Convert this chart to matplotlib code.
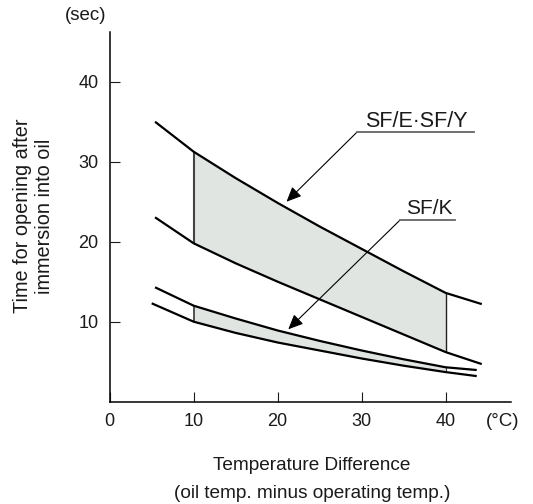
import matplotlib
matplotlib.use('Agg')
import matplotlib.pyplot as plt

plt.rcParams['font.family'] = ['Liberation Sans', 'DejaVu Sans']

# values
temp_sfe = [5.4, 10, 15, 20, 25, 30, 35, 40, 44.3]
sfe_upper = [35.0, 31.25, 27.95, 24.85, 21.9, 19.1, 16.3, 13.6, 12.2]
sfe_lower = [23.05, 19.8, 17.3, 15.0, 12.8, 10.6, 8.4, 6.2, 4.7]

temp_sfk_up = [5.4, 10, 15, 20, 25, 30, 35, 40, 43.7]
sfk_upper = [14.3, 12.0, 10.4, 8.9, 7.6, 6.4, 5.3, 4.3, 3.96]
temp_sfk_lo = [5.0, 10, 15, 20, 25, 30, 35, 40, 43.7]
sfk_lower = [12.3, 10.0, 8.6, 7.4, 6.4, 5.4, 4.5, 3.7, 3.2]

x_ticks = [0, 10, 20, 30, 40]
y_ticks = [10, 20, 30, 40]
band_range = (10, 40)

txt = '#1a1a1a'
fill_col = '#e1e5e1'

fig = plt.figure(figsize=(5.33, 5.04), dpi=100)
ax = fig.add_axes([0.2058, 0.203, 0.7523, 0.734])

# shaded bands between 10 and 40 degC
i0, i1 = temp_sfe.index(band_range[0]), temp_sfe.index(band_range[1]) + 1
ax.fill_between(temp_sfe[i0:i1], sfe_lower[i0:i1], sfe_upper[i0:i1], color=fill_col, lw=0, zorder=1)
ax.fill_between(temp_sfk_up[i0:i1], sfk_lower[i0:i1], sfk_upper[i0:i1], color=fill_col, lw=0, zorder=1)

ax.vlines(band_range[0], sfe_lower[i0], sfe_upper[i0], color='#444444', lw=1.5, zorder=2)
ax.vlines(band_range[1], sfe_lower[i1 - 1], sfe_upper[i1 - 1], color='#222222', lw=1.0, zorder=2)
ax.vlines(band_range[0], sfk_lower[i0], sfk_upper[i0], color='#444444', lw=1.3, zorder=2)
ax.vlines(band_range[1], sfk_lower[i1 - 1], sfk_upper[i1 - 1], color='#444444', lw=0.8, zorder=2)

for xs, ys in [(temp_sfe, sfe_upper), (temp_sfe, sfe_lower),
               (temp_sfk_up, sfk_upper), (temp_sfk_lo, sfk_lower)]:
    ax.plot(xs, ys, color='black', lw=1.6, solid_capstyle='butt', solid_joinstyle='round', zorder=3)

# callouts
arrow = dict(arrowstyle='-|>,head_length=0.45,head_width=0.2', color='black',
             lw=0.8, shrinkA=0, shrinkB=0, mutation_scale=20)
ax.annotate('', xy=(21.05, 25.0), xytext=(29.44, 33.7), arrowprops=arrow, zorder=4)
ax.plot([29.44, 43.37], [33.7, 33.7], color='#666666', lw=1.3, zorder=4)
ax.text(36.5, 34.4, 'SF/E·SF/Y', ha='center', va='baseline', fontsize=15.5, color=txt)

ax.annotate('', xy=(21.26, 9.05), xytext=(34.56, 22.7), arrowprops=arrow, zorder=4)
ax.plot([34.56, 41.1], [22.7, 22.7], color='#666666', lw=1.3, zorder=4)
ax.text(38.0, 23.45, 'SF/K', ha='center', va='baseline', fontsize=15, color=txt)

ax.set_xlim(0, 47.74)
ax.set_ylim(0, 46.25)
ax.set_xticks(x_ticks)
ax.set_yticks(y_ticks)
ax.tick_params(direction='in', length=7.2, width=0.8, labelsize=13, colors=txt, pad=8)
for s in ['top', 'right']:
    ax.spines[s].set_visible(False)
for s in ['left', 'bottom']:
    ax.spines[s].set_linewidth(1.1)

fig.text(86 / 533, 1 - 15 / 504, '(sec)', ha='center', va='center', fontsize=13.5, color=txt)
fig.text(503 / 533, 1 - 421.7 / 504, '(°C)', ha='center', va='center', fontsize=13.5, color=txt)
fig.text(312 / 533, 1 - 465 / 504, 'Temperature Difference', ha='center', va='center', fontsize=13.7, color=txt)
fig.text(312 / 533, 1 - 494 / 504, '(oil temp. minus operating temp.)', ha='center', va='center',
         fontsize=13.7, color=txt)
fig.text(34 / 533, 1 - 216 / 504, 'Time for opening after\nimmersion into oil', rotation=90,
         ha='center', va='center', multialignment='center', linespacing=1.2, fontsize=14.3, color=txt)

fig.savefig('out.png', dpi=100)
